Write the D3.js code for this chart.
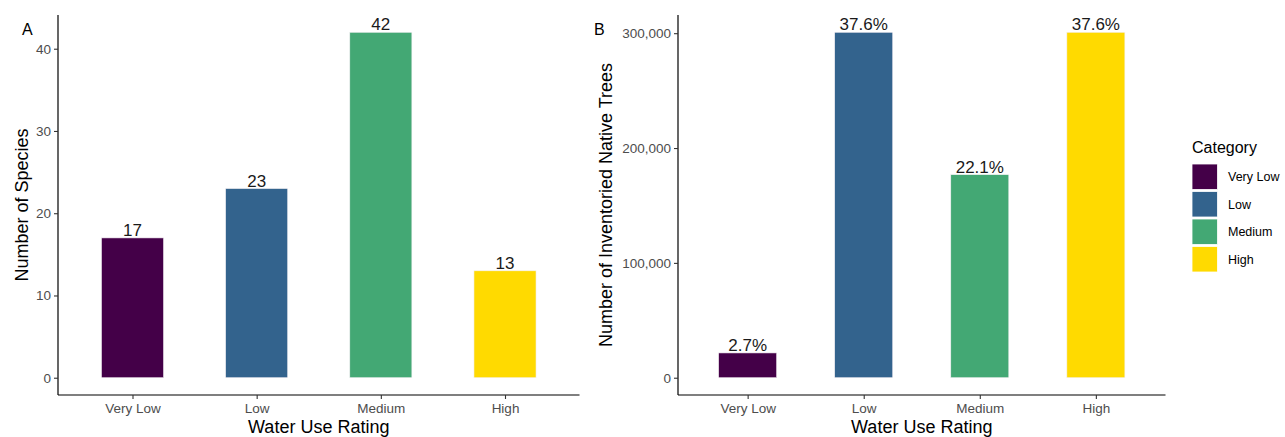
<!DOCTYPE html>
<html>
<head>
<meta charset="utf-8">
<script src="https://cdn.jsdelivr.net/npm/d3@7"></script>
<style>
  html, body { margin: 0; padding: 0; background: #fff; }
  svg { display: block; font-family: "Liberation Sans", Arial, sans-serif; }
</style>
</head>
<body>
<svg id="chart" width="1285" height="437"></svg>
<script>
// Water use rating categories
const categories = ["Very Low", "Low", "Medium", "High"];
// Panel A: number of species per rating
const speciesCounts = [17, 23, 42, 13];
// Panel B: number of inventoried native trees per rating
const treeCounts = [21600, 300800, 176800, 300800];
// Axis ticks
const ticksA = [0, 10, 20, 30, 40];
const ticksB = [0, 100000, 200000, 300000];
// Fill colours per category
const colors = ["#440048", "#33638D", "#43A874", "#FFDA00"];

const svg = d3.select("#chart");
const color = d3.scaleOrdinal().domain(categories).range(colors);
const totalTrees = d3.sum(treeCounts);

const plotTop = 15, plotBottom = 395;

function panel(opts) {
  const g = svg.append("g");
  const x = d3.scalePoint().domain(categories)
    .range([opts.left, opts.right]).padding(0.6);
  const maxV = d3.max(opts.values);
  const pad = maxV * 0.05;
  const y = d3.scaleLinear().domain([-pad, maxV + pad]).range([plotBottom, plotTop]);
  const bw = x.step() * 0.5;

  // bars
  g.selectAll("rect.bar").data(categories).join("rect")
    .attr("class", "bar")
    .attr("x", d => x(d) - bw / 2)
    .attr("width", bw)
    .attr("y", (d, i) => y(opts.values[i]))
    .attr("height", (d, i) => y(0) - y(opts.values[i]))
    .attr("fill", d => color(d))
    .attr("stroke", "#f4f0f4")
    .attr("stroke-width", 0.6);

  // value labels
  g.selectAll("text.val").data(categories).join("text")
    .attr("class", "val")
    .attr("x", d => x(d))
    .attr("y", (d, i) => y(opts.values[i]) - 2)
    .attr("text-anchor", "middle")
    .attr("font-size", 17)
    .attr("fill", "#1a1a1a")
    .text((d, i) => opts.label(opts.values[i]));

  // y axis
  const yAxis = g.append("g")
    .attr("transform", `translate(${opts.left},0)`)
    .call(d3.axisLeft(y).tickValues(opts.ticks).tickSize(4).tickPadding(3)
      .tickFormat(opts.tickFormat));
  yAxis.select(".domain").attr("d", `M0,${plotTop}V${plotBottom}`);

  // x axis
  const xAxis = g.append("g")
    .attr("transform", `translate(0,${plotBottom})`)
    .call(d3.axisBottom(x).tickSize(4).tickPadding(4));
  xAxis.select(".domain").attr("d", `M${opts.left},0H${opts.right}`);

  [yAxis, xAxis].forEach(a => {
    a.select(".domain").attr("stroke", "#000").attr("stroke-width", 1.2);
    a.selectAll(".tick line").attr("stroke", "#333").attr("stroke-width", 1.1);
    a.selectAll(".tick text").attr("fill", "#4D4D4D").attr("font-size", 13.5)
      .attr("font-family", "Liberation Sans, Arial, sans-serif");
  });

  // axis titles
  g.append("text")
    .attr("x", (opts.left + opts.right) / 2)
    .attr("y", 433)
    .attr("text-anchor", "middle")
    .attr("font-size", 18)
    .attr("fill", "#000")
    .text("Water Use Rating");

  g.append("text")
    .attr("transform", `translate(${opts.titleX},${(plotTop + plotBottom) / 2}) rotate(-90)`)
    .attr("text-anchor", "middle")
    .attr("font-size", 18)
    .attr("fill", "#000")
    .text(opts.yTitle);

  // panel tag
  g.append("text")
    .attr("x", opts.tagX)
    .attr("y", 35)
    .attr("font-size", 16)
    .attr("fill", "#000")
    .text(opts.tag);
}

panel({
  left: 58, right: 579.5,
  values: speciesCounts,
  ticks: ticksA,
  tickFormat: d3.format("d"),
  label: v => String(v),
  yTitle: "Number of Species",
  titleX: 28,
  tag: "A", tagX: 22
});

panel({
  left: 678, right: 1165.5,
  values: treeCounts,
  ticks: ticksB,
  tickFormat: d3.format(","),
  label: v => (v / totalTrees * 100).toFixed(1) + "%",
  yTitle: "Number of Inventoried Native Trees",
  titleX: 612,
  tag: "B", tagX: 594
});

// legend
const legend = svg.append("g").attr("transform", "translate(1192,0)");
legend.append("text")
  .attr("x", 0).attr("y", 153)
  .attr("font-size", 16)
  .attr("fill", "#000")
  .text("Category");

const items = legend.selectAll("g.item").data(categories).join("g")
  .attr("class", "item")
  .attr("transform", (d, i) => `translate(0,${164 + i * 27.5})`);
items.append("rect")
  .attr("width", 25.5).attr("height", 25.5)
  .attr("fill", d => color(d))
  .attr("stroke", "#fff").attr("stroke-width", 0.8);
items.append("text")
  .attr("x", 36).attr("y", 12.75)
  .attr("dy", "0.35em")
  .attr("font-size", 12.5)
  .attr("fill", "#000")
  .text(d => d);
</script>
</body>
</html>
